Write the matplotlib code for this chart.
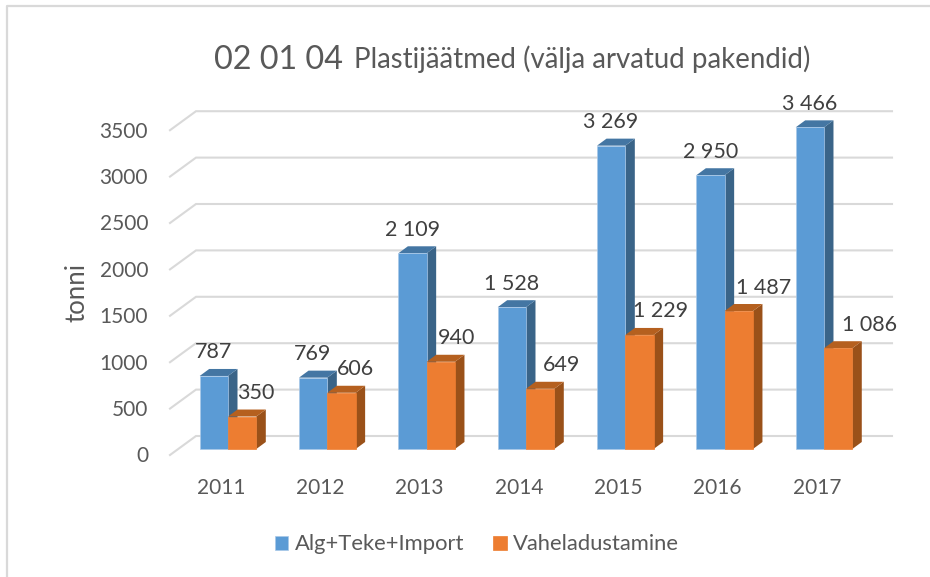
import numpy as np
import matplotlib
matplotlib.use("Agg")
import matplotlib.pyplot as plt
from matplotlib.lines import Line2D

plt.rcParams['font.family'] = ['Lato', 'DejaVu Sans']

# --- data ---
years = ['2011', '2012', '2013', '2014', '2015', '2016', '2017']
alg_teke_import = [787, 769, 2109, 1528, 3269, 2950, 3466]
vaheladustamine = [350, 606, 940, 649, 1229, 1487, 1086]
alg_labels = ['787', '769', '2 109', '1 528', '3 269', '2 950', '3 466']
vahe_labels = ['350', '606', '940', '649', '1 229', '1 487', '1 086']
y_ticks = [0, 500, 1000, 1500, 2000, 2500, 3000, 3500]

# --- layout, in pixels of the 930x577 picture ---
W, H = 930, 577
PX_X = 99.33     # one category
PX_Y = 0.0928    # one tonne
X0, Y0 = 228, 449  # first category centre, foot of the bars
BAR_W = 28.3 / PX_X
DEPTH_X, DEPTH_Y = 9.5 / PX_X, 7 / PX_Y
TEXT = '#595959'
LABEL = '#404040'
GRID = '#d9d9d9'

fig = plt.figure(figsize=(W / 100, H / 100), dpi=100)
ax = fig.add_axes([0, 0, 1, 1])
ax.set_xlim(-X0 / PX_X, (W - X0) / PX_X)
ax.set_ylim((Y0 - H) / PX_Y, Y0 / PX_Y)
ax.axis('off')

# outer frame (only left and top are visible)
fig.add_artist(Line2D([7 / W, 7 / W, 1], [0, 1 - 6 / H, 1 - 6 / H], color=GRID, lw=1.6))

# walls: gridlines with the slanted part on the left
front_x, back_x, right_x = (170 - X0) / PX_X, (196 - X0) / PX_X, (892 - X0) / PX_X
front_dy, back_dy = -6 / PX_Y, 13 / PX_Y
for v in y_ticks:
    ax.plot([front_x, back_x, right_x], [v + front_dy, v + back_dy, v + back_dy],
            color=GRID, lw=1.5, solid_joinstyle='miter', zorder=1)
    ax.text(front_x - 0.22, v + front_dy - 16, str(v), ha='right', va='center',
            fontsize=15, color=TEXT)


def bars(xs, vals, face, side, top, label, z):
    b = ax.bar(xs, vals, BAR_W, color=face, edgecolor='#a9c8e8' if z == 2 else face,
               linewidth=0.5, label=label, zorder=z + 0.1)
    for x, v in zip(xs, vals):
        l, r = x - BAR_W / 2, x + BAR_W / 2
        ax.fill([r, r + DEPTH_X, r + DEPTH_X, r], [0, DEPTH_Y, v + DEPTH_Y, v], color=side, lw=0, zorder=z)
        ax.fill([l, r, r + DEPTH_X, l + DEPTH_X], [v, v, v + DEPTH_Y, v + DEPTH_Y], color=top, lw=0, zorder=z)
    return b


x = np.arange(len(years))
b1 = bars(x - BAR_W / 2, alg_teke_import, '#5b9bd5', '#3a6488', '#4476a3', 'Alg+Teke+Import', 2)
b2 = bars(x + BAR_W / 2, vaheladustamine, '#ed7d31', '#9a5119', '#b5601f', 'Vaheladustamine', 3)

# data labels, the orange ones were moved by hand in the original
vahe_dx = [28, 28, 30, 36, 35, 39, 46]
for i in x:
    ax.annotate(alg_labels[i], (i, alg_teke_import[i]), xytext=(-14.5, 23.5), textcoords='offset pixels',
                ha='center', va='center', fontsize=15.5, color=LABEL, zorder=5)
    ax.annotate(vahe_labels[i], (i, vaheladustamine[i]), xytext=(vahe_dx[i], 23.5), textcoords='offset pixels',
                ha='center', va='center', fontsize=15.5, color=LABEL, zorder=5)
    ax.text(i - 0.07, (Y0 - 488) / PX_Y, years[i], ha='center', va='center', fontsize=15, color=TEXT)

fig.text(77 / W, 1 - 293 / H, 'tonni', rotation=90, ha='center', va='center', fontsize=18.5, color=TEXT)

# title has two sizes
fig.text(214 / W, 1 - 69 / H, '02 01 04', ha='left', va='baseline', fontsize=23.3, color=TEXT)
fig.text(354 / W, 1 - 68 / H, 'Plastijäätmed (välja arvatud pakendid)', ha='left', va='baseline',
         fontsize=19.9, color=TEXT)

fig.legend(handles=[b1, b2], loc='center', bbox_to_anchor=(477 / W, 1 - 544.5 / H), ncol=2, frameon=False,
           fontsize=15.8, labelcolor=TEXT, handlelength=0.62, handleheight=0.62, handletextpad=0.3,
           columnspacing=1.32, borderpad=0)

fig.savefig('out.png', dpi=100)
